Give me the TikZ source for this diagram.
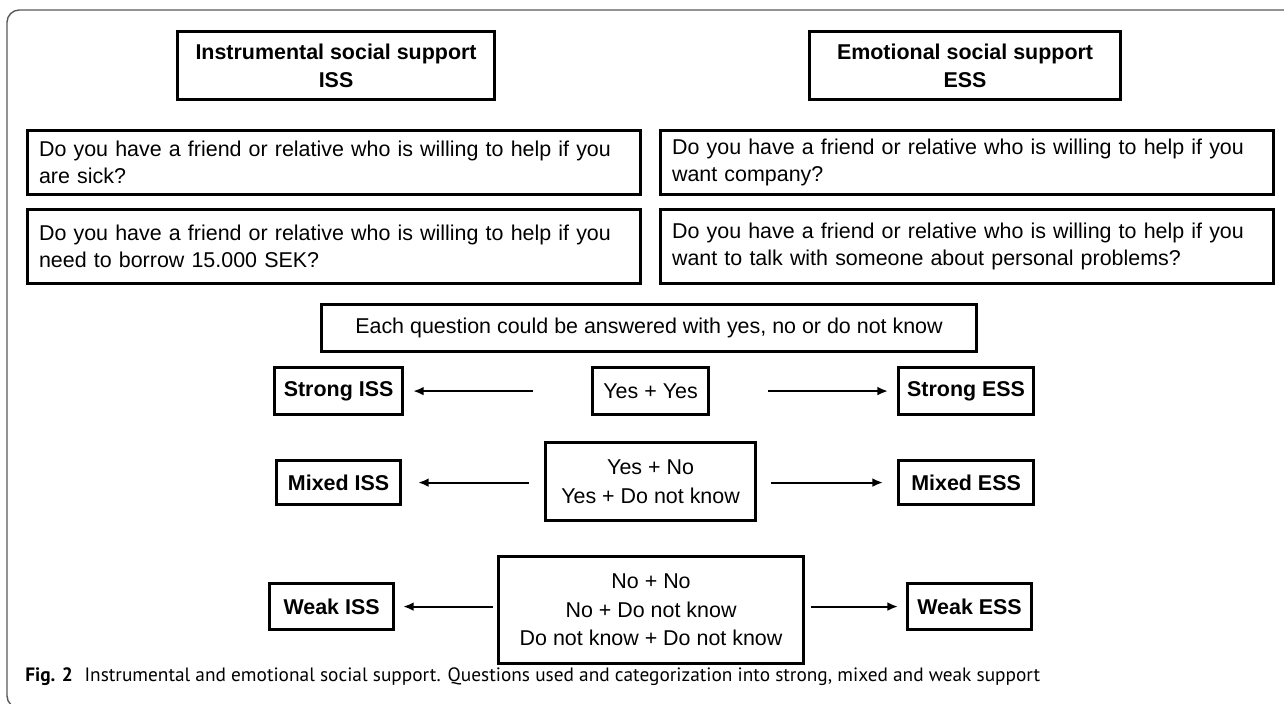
\documentclass[tikz,border=0pt]{standalone}
\usepackage{fontspec}
\setmainfont{Liberation Sans}
\newfontfamily\capfont{PT Sans}
\usetikzlibrary{arrows.meta}

\tikzset{
  hdr/.style={draw, line width=1.8pt, align=center, inner xsep=0.2cm,
    font=\bfseries\fontsize{12.2}{15.9}\selectfont, minimum height=1.36cm},
  qbox/.style={draw, line width=1.8pt, align=left, text width=#1, inner xsep=0.23cm,
    font=\fontsize{12.2}{15.4}\selectfont},
  ansbox/.style={draw, line width=1.8pt, align=center, inner xsep=0.15cm,
    font=\fontsize{12.2}{16.2}\selectfont},
  catbox/.style={draw, line width=1.8pt, inner sep=0.1cm,
    font=\bfseries\fontsize{12.2}{14}\selectfont},
  toarrow/.style={-{Latex[length=6pt,width=5pt]}, line width=1.2pt},
}

\begin{document}
\begin{tikzpicture}[x=0.02cm, y=-0.02cm]
\useasboundingbox (0,0) rectangle (1284,703);
% frame round the figure
\draw[gray!70!black, line width=0.8pt, rounded corners=7pt] (1284,10) -- (7,10) -- (7,708) -- (30,708);

% headers
\node[hdr, anchor=north west, minimum width=6.34cm] (isshead) at (176,30) {Instrumental social support\\ISS};
\node[hdr, anchor=north west, minimum width=6.22cm] (esshead) at (808,30) {Emotional social support\\ESS};

% questions
\node[qbox=11.8cm, anchor=north west, minimum height=1.28cm] (q1l) at (26,129)
  {Do you have a friend or relative who is willing to help if you\\are sick?};
\node[qbox=11.8cm, anchor=north west, minimum height=1.28cm] (q1r) at (659,129)
  {Do you have a friend or relative who is willing to help if you\\want company?};
\node[qbox=11.8cm, anchor=north west, minimum height=1.48cm] (q2l) at (26,208)
  {Do you have a friend or relative who is willing to help if you\\need to borrow 15.000 SEK?};
\node[qbox=11.8cm, anchor=north west, minimum height=1.48cm] (q2r) at (659,208)
  {Do you have a friend or relative who is willing to help if you\\want to talk with someone about personal problems?};

\node[ansbox, anchor=north west, minimum width=13.1cm, minimum height=0.94cm] (each) at (320,303)
  {Each question could be answered with yes, no or do not know};

% strong
\node[catbox, anchor=north west, minimum width=2.56cm, minimum height=0.94cm] (siss) at (273,366) {Strong ISS};
\node[ansbox, anchor=north west, minimum width=2.32cm, minimum height=0.94cm] (yy) at (591,366) {Yes + Yes};
\node[catbox, anchor=north west, minimum width=2.7cm, minimum height=0.94cm] (sess) at (897,366) {Strong ESS};

% mixed
\node[catbox, anchor=north west, minimum width=2.48cm, minimum height=0.88cm] (miss) at (275,459) {Mixed ISS};
\node[ansbox, anchor=north west, minimum width=4.2cm, minimum height=1.56cm] (yn) at (544,441) {Yes + No\\Yes + Do not know};
\node[catbox, anchor=north west, minimum width=2.7cm, minimum height=0.88cm] (mess) at (897,459) {Mixed ESS};

% weak
\node[catbox, anchor=north west, minimum width=2.48cm, minimum height=0.92cm] (wiss) at (268,582) {Weak ISS};
\node[ansbox, anchor=north west, minimum width=6.1cm, minimum height=2.14cm] (nn) at (497,555) {No + No\\No + Do not know\\Do not know + Do not know};
\node[catbox, anchor=north west, minimum width=2.48cm, minimum height=0.92cm] (wess) at (906,582) {Weak ESS};

\draw[toarrow, shorten <=1.16cm, shorten >=0.18cm] (yy.west) -- (siss.east);
\draw[toarrow, shorten <=1.16cm, shorten >=0.18cm] (yy.east) -- (sess.west);
\draw[toarrow, shorten <=0.3cm, shorten >=0.32cm] (yn.west |- miss.east) -- (miss.east);
\draw[toarrow, shorten <=0.28cm, shorten >=0.28cm] (yn.east |- mess.west) -- (mess.west);
\draw[toarrow, shorten <=0.08cm, shorten >=0.16cm] (nn.west |- wiss.east) -- (wiss.east);
\draw[toarrow, shorten <=0.12cm, shorten >=0.16cm] (nn.east |- wess.west) -- (wess.west);

% caption
\node[anchor=west, inner sep=0pt, font=\capfont\fontsize{11}{13}\selectfont] (caption) at (25,677)
  {\textbf{Fig. 2}\hspace{0.6em}Instrumental and emotional social support. Questions used and categorization into strong, mixed and weak support};
\end{tikzpicture}
\end{document}
